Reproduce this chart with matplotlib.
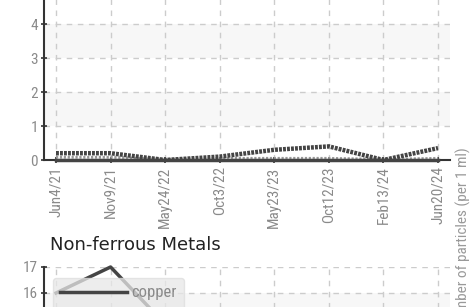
import matplotlib
matplotlib.use('Agg')
import matplotlib.pyplot as plt
from matplotlib import font_manager

# sample dates (categorical x axis)
dates = ['Jun4/21', 'Nov9/21', 'May24/22', 'Oct3/22',
         'May23/23', 'Oct12/23', 'Feb13/24', 'Jun20/24']

# upper chart
top_copper = [0.0, 0.0, 0.0, 0.0, 0.0, 0.0, 0.0, 0.0]
top_lead = [0.2, 0.2, 0.0, 0.1, 0.3, 0.4, 0.0, 0.35]
top_tin = [0.08, 0.08, 0.02, 0.05, 0.05, 0.05, 0.02, 0.05]

# non-ferrous metals
nf_copper = [16.0, 17.0, 14.8, 14.2, 13.6, 13.2, 12.8, 12.6]
nf_lead = [12.4, 12.6, 12.2, 12.0, 12.3, 12.5, 12.1, 12.4]
nf_tin = [11.6, 11.8, 11.5, 11.4, 11.6, 11.7, 11.3, 11.5]

W, H = 470, 307
fig = plt.figure(figsize=(W / 100, H / 100), dpi=100)

# narrow font for the tick labels if one is around
names = set(f.name for f in font_manager.fontManager.ttflist)
narrow = [n for n in ['Roboto Condensed', 'Liberation Sans Narrow', 'DejaVu Sans']
          if n in names]
tick_font = dict(family=narrow[0])
if narrow[0] == 'DejaVu Sans':
    tick_font['stretch'] = 'condensed'
grey = '#8a8a8a'
line_dark = '#444444'


def style_axes(ax, ymin, ymax):
    ax.set_xlim(-0.22, len(dates) - 1 + 0.22)
    ax.set_ylim(ymin, ymax)
    # alternating bands
    for y in range(ymin, ymax):
        if y % 2 == 1:
            ax.axhspan(y, y + 1, color='#f7f7f7', zorder=0, lw=0)
    ax.grid(True, color='#cccccc', linestyle=(0, (4, 4)), lw=1)
    ax.set_axisbelow(True)
    ax.set_xticks(range(len(dates)))
    ax.set_yticks(range(ymin, ymax + 1))
    for s in ['top', 'right']:
        ax.spines[s].set_visible(False)
    for s in ['left', 'bottom']:
        ax.spines[s].set_color('#333333')
        ax.spines[s].set_linewidth(1.5)
    ax.tick_params(direction='inout', length=5, width=1.2, color='#333333',
                   labelcolor=grey, labelsize=11, pad=2)
    ax.set_yticklabels([str(v) for v in range(ymin, ymax + 1)], **tick_font)


def plot_series(ax, copper, lead, tin):
    x = range(len(dates))
    ax.plot(x, tin, color='#999999', lw=2, linestyle=(0, (0.8, 0.6)),
            label='tin', zorder=3)
    ax.plot(x, lead, color='#444444', lw=3.2, linestyle=(0, (0.65, 0.25)),
            label='lead', zorder=4)
    ax.plot(x, copper, color=line_dark, lw=2.5, label='copper', zorder=5,
            clip_on=False)


# upper axes: 0 at y=160px, 34 px per unit
ax1 = fig.add_axes([44 / W, (H - 160) / H, 406 / W, 204 / H])
style_axes(ax1, 0, 6)
plot_series(ax1, top_copper, top_lead, top_tin)
ax1.set_xticklabels(dates, rotation=90, **tick_font)

# lower axes: 17 at y=267px, 26 px per unit
ax2 = fig.add_axes([44 / W, (H - 423) / H, 406 / W, 156 / H])
style_axes(ax2, 11, 17)
plot_series(ax2, nf_copper, nf_lead, nf_tin)
ax2.set_title('Non-ferrous Metals', loc='left', x=0.015, fontsize=13,
              color='#222222', pad=12)
h, l = ax2.get_legend_handles_labels()
leg = ax2.legend(h[::-1], l[::-1], loc='upper left',
                 bbox_to_anchor=(0.022, 0.93), handlelength=4.0,
                 handletextpad=0.25, borderpad=0.45, borderaxespad=0,
                 fancybox=True, framealpha=0.75, facecolor='#e8e8e8',
                 edgecolor='#dddddd', labelcolor=grey,
                 prop=dict(size=12, **tick_font))

fig.text(463 / W, 1 - 238 / H, 'Number of particles (per 1 ml)',
         rotation=90, ha='center', va='center', color='#999999',
         fontsize=11, **tick_font)

fig.savefig('out.png', dpi=100)
